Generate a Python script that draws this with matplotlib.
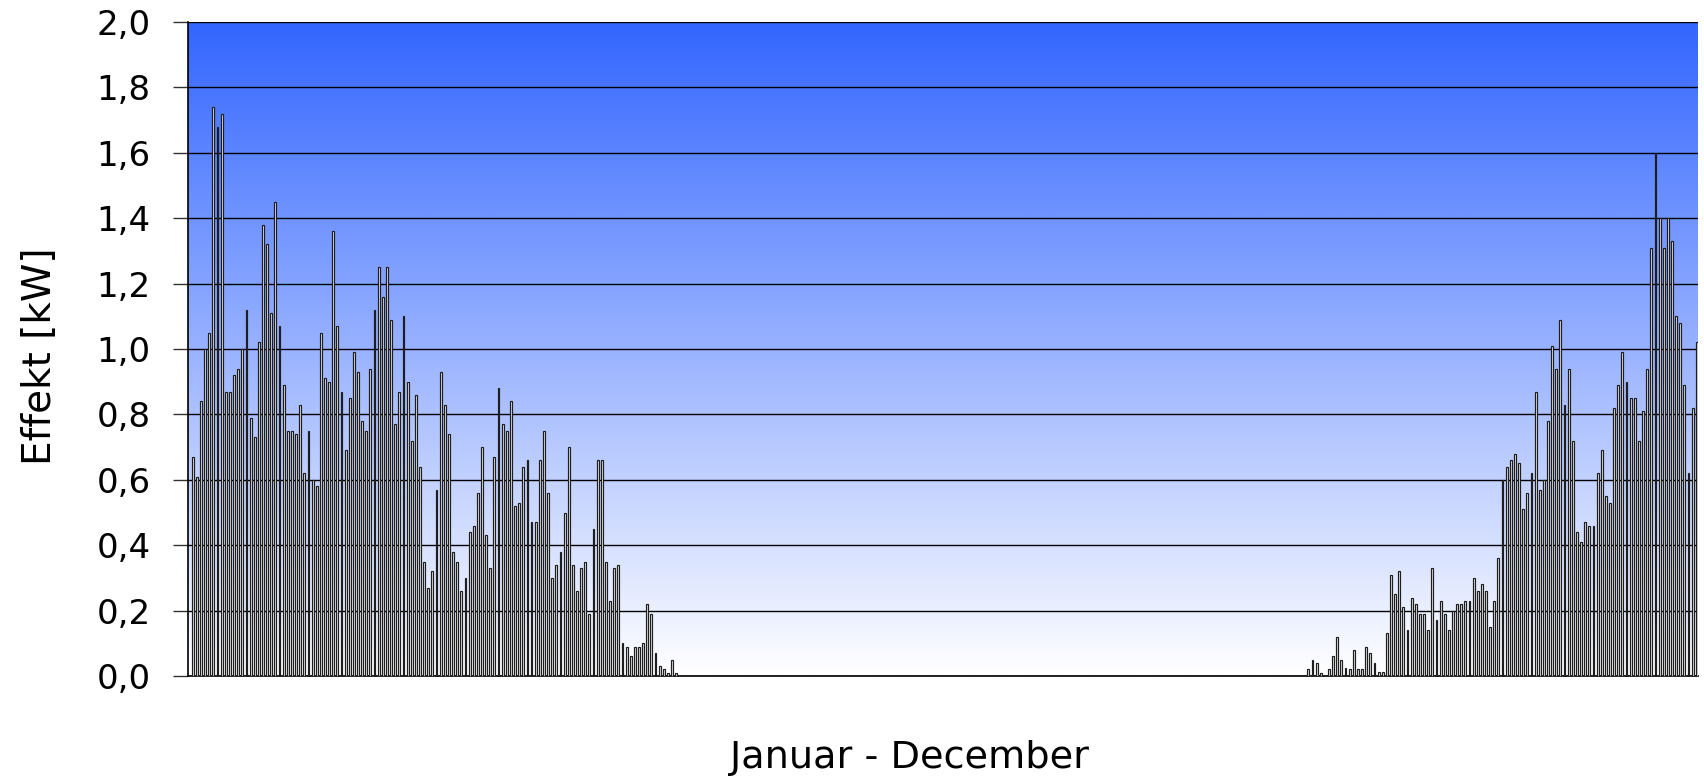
import numpy as np
import matplotlib
matplotlib.use("Agg")
import matplotlib.pyplot as plt
from matplotlib.colors import LinearSegmentedColormap
from matplotlib.ticker import FuncFormatter

# Daily output in kW, Jan 1 .. Apr 28 (days 0-117)
spring_kw = [
    0.67, 0.61, 0.84, 1.00, 1.05, 1.74, 1.68, 1.72, 0.87, 0.87,
    0.92, 0.94, 1.00, 1.12, 0.79, 0.73, 1.02, 1.38, 1.32, 1.11,
    1.45, 1.07, 0.89, 0.75, 0.75, 0.74, 0.83, 0.62, 0.75, 0.60,
    0.58, 1.05, 0.91, 0.90, 1.36, 1.07, 0.87, 0.69, 0.85, 0.99,
    0.93, 0.78, 0.75, 0.94, 1.12, 1.25, 1.16, 1.25, 1.09, 0.77,
    0.87, 1.10, 0.90, 0.72, 0.86, 0.64, 0.35, 0.27, 0.32, 0.57,
    0.93, 0.83, 0.74, 0.38, 0.35, 0.26, 0.30, 0.44, 0.46, 0.56,
    0.70, 0.43, 0.33, 0.67, 0.88, 0.77, 0.75, 0.84, 0.52, 0.53,
    0.64, 0.66, 0.47, 0.47, 0.66, 0.75, 0.56, 0.30, 0.34, 0.38,
    0.50, 0.70, 0.34, 0.26, 0.33, 0.35, 0.19, 0.45, 0.66, 0.66,
    0.35, 0.23, 0.33, 0.34, 0.10, 0.09, 0.06, 0.09, 0.09, 0.10,
    0.22, 0.19, 0.07, 0.03, 0.02, 0.01, 0.05, 0.01,
]

# Summer: no output (days 118-269)
summer_kw = [0.0] * 152

# Sep 28 .. Dec 31 (days 270-364)
autumn_kw = [
    0.02, 0.05, 0.04, 0.01, 0.00, 0.02, 0.06, 0.12, 0.05, 0.025,
    0.02, 0.08, 0.02, 0.02, 0.09, 0.07, 0.04, 0.013, 0.013, 0.13,
    0.31, 0.25, 0.32, 0.21, 0.14, 0.24, 0.22, 0.19, 0.19, 0.14,
    0.33, 0.17, 0.23, 0.19, 0.14, 0.20, 0.22, 0.22, 0.23, 0.23,
    0.30, 0.26, 0.28, 0.26, 0.15, 0.23, 0.36, 0.60, 0.64, 0.66,
    0.68, 0.65, 0.51, 0.56, 0.62, 0.87, 0.57, 0.60, 0.78, 1.01,
    0.94, 1.09, 0.83, 0.94, 0.72, 0.44, 0.41, 0.47, 0.46, 0.46,
    0.62, 0.69, 0.55, 0.53, 0.82, 0.89, 0.99, 0.90, 0.85, 0.85,
    0.72, 0.81, 0.94, 1.31, 1.60, 1.40, 1.31, 1.40, 1.33, 1.10,
    1.08, 0.89, 0.62, 0.82, 1.02,
]

yticks = [0.0, 0.2, 0.4, 0.6, 0.8, 1.0, 1.2, 1.4, 1.6, 1.8, 2.0]

effekt = np.array(spring_kw + summer_kw + autumn_kw)
days = np.arange(len(effekt))

fig = plt.figure(figsize=(17.04, 7.79), dpi=100)
ax = fig.add_axes([188 / 1704, 1 - 676 / 779, (1698 - 188) / 1704, (676 - 22) / 779])

# blue-to-white gradient behind the bars
grad = LinearSegmentedColormap.from_list("bg", ["#ffffff", "#3366ff"])
ax.imshow(np.linspace(0, 1, 256).reshape(-1, 1), cmap=grad, origin="lower",
          extent=[0, 1, 0, 1], transform=ax.transAxes, aspect="auto", zorder=0)

ax.bar(days, effekt, width=0.45, color="#e6e6e6", edgecolor="#1e1e1e",
       linewidth=0.85, zorder=3)

ax.set_xlim(-1.15, 364.3)
ax.set_ylim(0, 2.0)
ax.set_yticks(yticks)
ax.yaxis.set_major_formatter(FuncFormatter(lambda v, p: f"{v:.1f}".replace(".", ",")))
ax.yaxis.grid(True, color="black", linewidth=1.0, zorder=1)
ax.set_axisbelow(True)
ax.set_xticks([])
ax.tick_params(axis="y", direction="out", length=11, width=1.0, color="#333333",
               pad=16, labelsize=24.5)

for side in ["top", "right"]:
    ax.spines[side].set_visible(False)
ax.spines["left"].set_color("black")
ax.spines["left"].set_linewidth(1.2)
ax.spines["bottom"].set_color("black")
ax.spines["bottom"].set_linewidth(1.2)

fig.text(40 / 1704, 1 - 356 / 779, "Effekt [kW]", rotation=90, ha="center",
         va="center", fontsize=28)
fig.text(909 / 1704, 1 - 768 / 779, "Januar - December", ha="center",
         va="baseline", fontsize=27.5)

fig.savefig("out.png", dpi=100, facecolor="white")
